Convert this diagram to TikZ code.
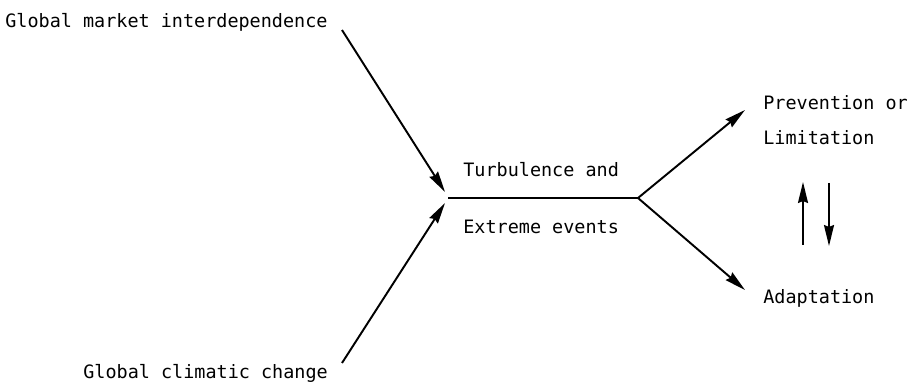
\documentclass[tikz,border=0pt]{standalone}
\usepackage{fontspec}
\newfontfamily\typefont{DejaVu Sans Mono}
\usetikzlibrary{arrows.meta}
\tikzset{
  lbl/.style={anchor=west, inner sep=0pt, font=\typefont\fontsize{10.5}{12}\selectfont},
  arr/.style={-{Stealth[length=0.42cm, width=0.2cm, inset=0.04cm]}, line width=1.1pt}
}
\begin{document}
\begin{tikzpicture}
    \useasboundingbox (0,0) rectangle (18.36,-7.74);

        % causes:
        \node(GMI)[lbl, xshift=0.1cm, yshift=-0.44cm]{Global market interdependence};
        \node(GCC)[lbl, xshift=1.66cm, yshift=-7.46cm]{Global climatic change};
        \coordinate(GMIout) at (6.84,-0.6);
        \coordinate(GCCout) at (6.84,-7.26);
        \coordinate(joinA) at (8.9,-3.84);
        \coordinate(joinB) at (8.9,-4.06);
        \draw[arr] (GMIout) -- (joinA);
        \draw[arr] (GCCout) -- (joinB);

        % events:
        \node(TUR)[lbl, xshift=9.26cm, yshift=-3.4cm]{Turbulence and};
        \node(EXT)[lbl, xshift=9.26cm, yshift=-4.54cm]{Extreme events};
        \coordinate(start) at (8.96,-3.96);
        \coordinate(fork) at (12.76,-3.96);
        \draw[line width=1.1pt] (start) -- (fork);

        % responses:
        \node(PRE)[lbl, xshift=15.26cm, yshift=-2.06cm]{Prevention or};
        \node(LIM)[lbl, xshift=15.26cm, yshift=-2.76cm]{Limitation};
        \node(ADA)[lbl, xshift=15.26cm, yshift=-5.96cm]{Adaptation};
        \coordinate(PREin) at (14.9,-2.2);
        \coordinate(ADAin) at (14.9,-5.8);
        \draw[arr] (fork) -- (PREin);
        \draw[arr] (fork) -- (ADAin);

        \coordinate(upA) at (16.06,-4.9);
        \coordinate(upB) at (16.06,-3.64);
        \coordinate(dnA) at (16.58,-3.66);
        \coordinate(dnB) at (16.58,-4.92);
        \draw[arr] (upA) -- (upB);
        \draw[arr] (dnA) -- (dnB);

    \end{tikzpicture}
\end{document}
